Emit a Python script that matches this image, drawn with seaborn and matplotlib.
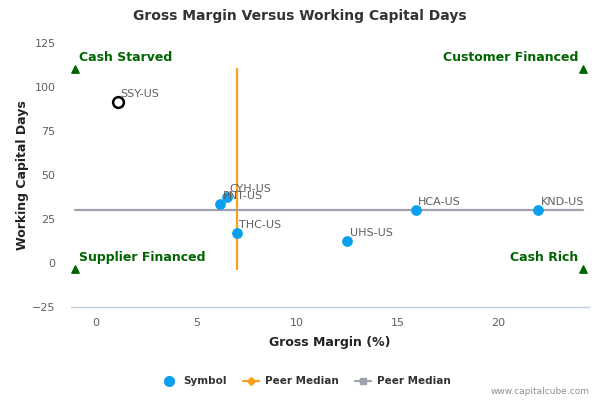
import numpy as np
import pandas as pd
import matplotlib
matplotlib.use("Agg")
import matplotlib.pyplot as plt
import seaborn as sns
from matplotlib.lines import Line2D

# -----------------------------
# Data
# -----------------------------
symbols = ["SSY-US", "CYH-US", "PNT-US", "THC-US", "UHS-US", "HCA-US", "KND-US"]
gross_margin = [1.1, 6.5, 6.2, 7.0, 12.5, 15.9, 22.0]
working_capital_days = [91.5, 37.5, 33.5, 17.0, 12.5, 30.0, 30.0]
highlight = [True, False, False, False, False, False, False]

peer_median_margin = 7.0
peer_median_days = 30.0

quadrant_names = ["Cash Starved", "Customer Financed", "Supplier Financed", "Cash Rich"]
quadrant_x = [-1.05, 24.2, -1.05, 24.2]
quadrant_y = [110.0, 110.0, -3.5, -3.5]

x_ticks = [0, 5, 10, 15, 20]
y_ticks = [-25, 0, 25, 50, 75, 100, 125]

df = pd.DataFrame({"symbol": symbols, "margin": gross_margin,
                   "days": working_capital_days, "highlight": highlight})

blue = "#0BA0EE"
orange = "#F7A11A"
grey_line = "#9EA3AE"
green = "#006400"
axis_col = "#C0CCDD"

sns.set_style("white")
plt.rcParams['font.family'] = ['DejaVu Sans']

fig = plt.figure(figsize=(6, 4), dpi=100)
ax = fig.add_axes([0.118, 0.2325, 0.864, 0.66])

# peer median lines
ax.plot([peer_median_margin, peer_median_margin], [min(quadrant_y), max(quadrant_y)],
        color=orange, lw=1.6, zorder=2)
ax.plot([min(quadrant_x), max(quadrant_x)], [peer_median_days, peer_median_days],
        color=grey_line, lw=1.6, zorder=2)

# regular symbols
sns.scatterplot(data=df[~df.highlight], x="margin", y="days", color=blue,
                s=60, edgecolor=blue, linewidth=0, ax=ax, zorder=3, legend=False)
# highlighted symbol
sns.scatterplot(data=df[df.highlight], x="margin", y="days", facecolor="white",
                s=60, edgecolor="black", linewidth=1.8, ax=ax, zorder=4, legend=False)

for _, r in df.iterrows():
    ax.annotate(r.symbol, (r.margin, r.days), xytext=(2, 2), textcoords="offset points",
                ha="left", va="bottom", fontsize=8, color="#606060", zorder=5)

# quadrant markers and labels
ax.scatter(quadrant_x, quadrant_y, marker="^", color=green, s=28, zorder=3)
for name, qx, qy in zip(quadrant_names, quadrant_x, quadrant_y):
    left = qx < peer_median_margin
    ax.annotate(name, (qx, qy), xytext=(3 if left else -3, 4), textcoords="offset points",
                ha="left" if left else "right", va="bottom", fontsize=9,
                fontweight="bold", color=green)

ax.set_xlim(-1.24, 24.53)
ax.set_ylim(-25, 125)
ax.set_xticks(x_ticks)
ax.set_yticks(y_ticks)
ax.tick_params(axis="x", colors=axis_col, length=5, width=1, direction="out",
               labelcolor="#606060", labelsize=8, pad=3)
ax.tick_params(axis="y", length=0, labelcolor="#606060", labelsize=8, pad=11)
for side in ["top", "right", "left"]:
    ax.spines[side].set_visible(False)
ax.spines["bottom"].set_color(axis_col)
ax.spines["bottom"].set_linewidth(1)

ax.set_xlabel("Gross Margin (%)", fontsize=9, fontweight="bold", color="#222222", labelpad=6)
ax.set_ylabel("Working Capital Days", fontsize=9, fontweight="bold", color="#222222", labelpad=2)

fig.text(0.5, 0.96, "Gross Margin Versus Working Capital Days", ha="center", va="center",
         fontsize=10, fontweight="bold", color="#333333")

handles = [
    Line2D([], [], marker="o", color=blue, lw=0, markersize=7),
    Line2D([], [], marker="D", color=orange, lw=1.6, markersize=4),
    Line2D([], [], marker="s", color=grey_line, lw=1.6, markersize=5),
]
fig.legend(handles, ["Symbol", "Peer Median", "Peer Median"], loc="center",
           bbox_to_anchor=(0.51, 0.047), ncol=3, frameon=False,
           prop={"size": 7.5, "weight": "bold"}, labelcolor="#333333",
           handlelength=1.5, columnspacing=1.6, handletextpad=0.6)

fig.text(0.983, 0.02, "www.capitalcube.com", ha="right", va="center",
         fontsize=6.5, color="#909090")

fig.savefig("out.png", dpi=100)
